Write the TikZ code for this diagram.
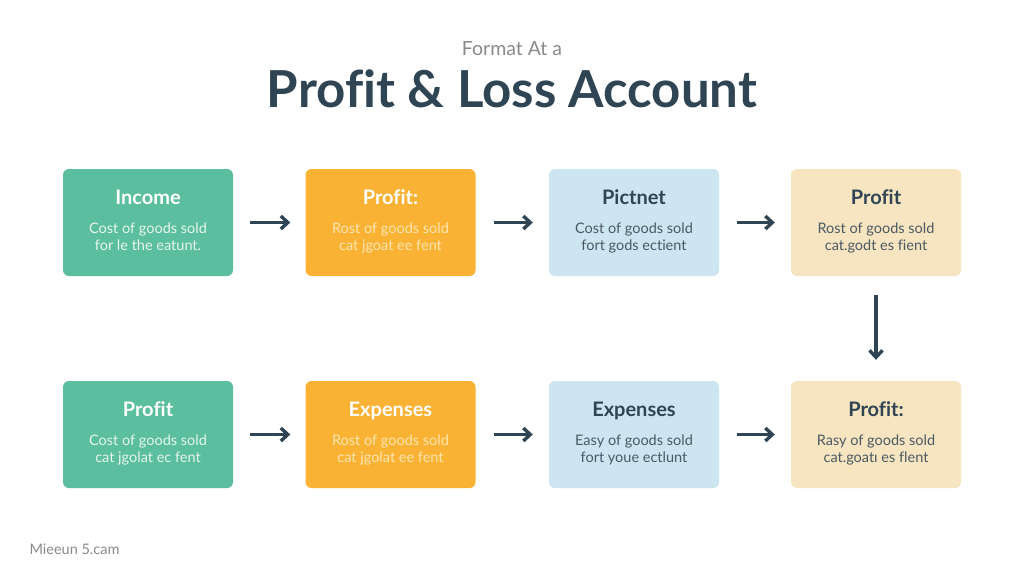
\documentclass[tikz,border=0pt]{standalone}
\usepackage{fontspec}
\setmainfont{Lato}[Ligatures=NoCommon]
\usetikzlibrary{arrows.meta}
\definecolor{ink}{HTML}{2F4554}
\definecolor{greenbox}{HTML}{5BBE9E}
\definecolor{orangebox}{HTML}{F9B234}
\definecolor{bluebox}{HTML}{CDE5F1}
\definecolor{beigebox}{HTML}{F7E4C0}
\definecolor{greentxt}{HTML}{E6F5EE}
\definecolor{orangetxt}{HTML}{FDE6B0}
\definecolor{softtxt}{HTML}{4A5A63}
\definecolor{greytxt}{HTML}{8A8A8A}
\tikzset{
  card/.style={rounded corners=6pt, minimum width=170pt, minimum height=107pt, inner sep=0pt},
  cardtitle/.style={font=\fontsize{20}{22}\selectfont\bfseries, anchor=base},
  cardbody/.style={font=\fontsize{14.5}{17}\selectfont, align=center, anchor=north},
  flow/.style={draw=ink, line width=3.4pt, -{Straight Barb[length=7pt,width=13pt,line width=3.4pt]}},
}
\begin{document}
\begin{tikzpicture}[x=1pt,y=-1pt]
\useasboundingbox[fill=white] (0,0) rectangle (1024,579);
% titles
\node[font=\fontsize{19.5}{21}\selectfont, text=greytxt, anchor=base] (sub) at (512,55) {Format At a};
\node[font=\fontsize{51}{56}\selectfont\bfseries, text=ink, anchor=base] (main) at (512,107) {Profit \& Loss Account};
% cards row 1
\node[card, fill=greenbox] (b1) at (148,222.5) {};
\node[card, fill=orangebox] (b2) at (390.5,222.5) {};
\node[card, fill=bluebox] (b3) at (634,222.5) {};
\node[card, fill=beigebox] (b4) at (876,222.5) {};
% cards row 2
\node[card, fill=greenbox] (b5) at (148,434.5) {};
\node[card, fill=orangebox] (b6) at (390.5,434.5) {};
\node[card, fill=bluebox] (b7) at (634,434.5) {};
\node[card, fill=beigebox] (b8) at (876,434.5) {};
% texts row 1
\node[cardtitle, text=white] (t1) at (148,204) {Income};
\node[cardbody, text=greentxt] (d1) at (148,219.5) {Cost of goods sold\\for le the eatunt.};
\node[cardtitle, text=white] (t2) at (390.5,204) {Profit:};
\node[cardbody, text=orangetxt] (d2) at (390.5,219.5) {Rost of goods sold\\cat jgoat ee fent};
\node[cardtitle, text=ink] (t3) at (634,204) {Pictnet};
\node[cardbody, text=softtxt] (d3) at (634,219.5) {Cost of goods sold\\fort gods ectient};
\node[cardtitle, text=ink] (t4) at (876,204) {Profit};
\node[cardbody, text=softtxt] (d4) at (876,219.5) {Rost of goods sold\\cat.godt es fient};
% texts row 2
\node[cardtitle, text=white] (t5) at (148,416) {Profit};
\node[cardbody, text=greentxt] (d5) at (148,431.5) {Cost of goods sold\\cat jgolat ec fent};
\node[cardtitle, text=white] (t6) at (390.5,416) {Expenses};
\node[cardbody, text=orangetxt] (d6) at (390.5,431.5) {Rost of goods sold\\cat jgolat ee fent};
\node[cardtitle, text=ink] (t7) at (634,416) {Expenses};
\node[cardbody, text=softtxt] (d7) at (634,431.5) {Easy of goods sold\\fort youe ectlunt};
\node[cardtitle, text=ink] (t8) at (876,416) {Profit:};
\node[cardbody, text=softtxt] (d8) at (876,431.5) {Rasy of goods sold\\cat.goatı es flent};
% arrows
\draw[flow, shorten <=17pt, shorten >=15pt] (b1.east) -- (b2.west);
\draw[flow, shorten <=18pt, shorten >=16pt] (b2.east) -- (b3.west);
\draw[flow, shorten <=18pt, shorten >=16pt] (b3.east) -- (b4.west);
\draw[flow, shorten <=19pt, shorten >=21pt] (b4.south) -- (b8.north);
\draw[flow, shorten <=17pt, shorten >=15pt] (b5.east) -- (b6.west);
\draw[flow, shorten <=18pt, shorten >=16pt] (b6.east) -- (b7.west);
\draw[flow, shorten <=18pt, shorten >=16pt] (b7.east) -- (b8.west);
% footer
\node[font=\fontsize{14.5}{16}\selectfont, text=greytxt, anchor=base west] (foot) at (26,554) {Mieeun 5.cam};
\end{tikzpicture}
\end{document}
